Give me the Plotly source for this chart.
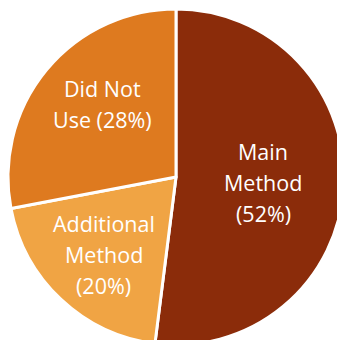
import math
import plotly.graph_objects as go

# Share of respondents by how they use the method
categories = ["Main Method", "Additional Method", "Did Not Use"]
shares = [52, 20, 28]
label_lines = [["Main", "Method", "(52%)"], ["Additional", "Method", "(20%)"], ["Did Not", "Use (28%)"]]
colors = ["#8B2C0A", "#F0A444", "#DE7A1F"]

# Page size and pie placement (pixels)
W, H = 344, 345
LEFT, TOP, SIZE = 8, 9, 336
label_radius = [0.52, 0.63, 0.615]   # label distance from centre, as a fraction of the radius
label_turn = [0.0, 0.0, 5.0]          # small turn (degrees, clockwise) off the slice bisector
LINE_GAP = 31
FONT = dict(family="Open Sans", size=21.5, color="white")

fig = go.Figure(
    go.Pie(
        labels=categories,
        values=shares,
        textinfo="none",
        sort=False,
        direction="clockwise",
        rotation=0,
        marker=dict(colors=colors, line=dict(color="white", width=3)),
        hoverinfo="label+percent",
        domain=dict(x=[LEFT / W, (LEFT + SIZE) / W], y=[1 - (TOP + SIZE) / H, 1 - TOP / H]),
    )
)

# Slice labels placed along each slice's bisector
cx, cy, R = LEFT + SIZE / 2, TOP + SIZE / 2, SIZE / 2
total = sum(shares)
start = 0.0
for lines, share, frac, turn in zip(label_lines, shares, label_radius, label_turn):
    mid = 2 * math.pi * (start + share / 2) / total + math.radians(turn)
    start += share
    px = cx + frac * R * math.sin(mid)
    py = cy - frac * R * math.cos(mid)
    n = len(lines)
    for i, line in enumerate(lines):
        ly = py + (i - (n - 1) / 2) * LINE_GAP
        fig.add_annotation(
            x=px / W, y=1 - ly / H, xref="paper", yref="paper",
            text=line, showarrow=False, xanchor="center", yanchor="middle",
            font=FONT,
        )

fig.update_layout(
    width=W,
    height=H,
    margin=dict(l=0, r=0, t=0, b=0),
    showlegend=False,
    paper_bgcolor="white",
    plot_bgcolor="white",
)

fig.write_html(
    "out.html",
    post_script="document.body.style.margin='0';document.body.style.overflow='hidden';document.documentElement.style.overflow='hidden';",
)
